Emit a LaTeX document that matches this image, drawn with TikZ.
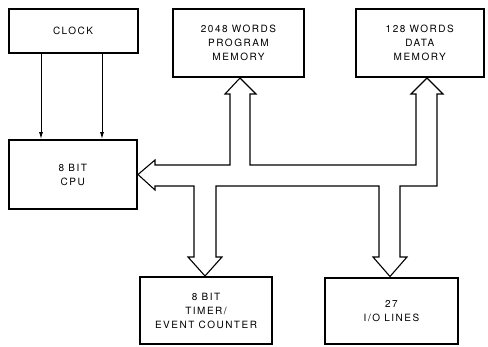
\documentclass[tikz,border=0pt]{standalone}
\usepackage{fontspec}
\newfontfamily\labfont{TeX Gyre Heros}[LetterSpace=15]
\usetikzlibrary{arrows.meta}
\tikzset{
  box/.style={draw=black, line width=2pt, align=center, inner sep=0pt,
    font=\labfont\fontsize{10}{14}\selectfont},
  bus/.style={draw=black, line width=1.1pt, line join=miter},
  clk/.style={draw=black, line width=0.9pt, -{Latex[length=7pt,width=4pt]}}
}
\begin{document}
\begin{tikzpicture}[x=1pt,y=-1pt]
\useasboundingbox (0,0) rectangle (488,346);
\node[box, minimum width=129pt, minimum height=44pt] (clock) at (73,30.5) {CLOCK};
\node[box, minimum width=128.5pt, minimum height=69pt] (cpu) at (72.75,174.5) {8 BIT\\CPU};
\node[box, minimum width=131pt, minimum height=68pt] (prog) at (238.5,43) {2048 WORDS\\PROGRAM\\MEMORY};
\node[box, minimum width=128.5pt, minimum height=68pt] (data) at (419.75,43) {128 WORDS\\DATA\\MEMORY};
\node[box, minimum width=132pt, minimum height=67pt] (timer) at (206,310.5) {8 BIT\\TIMER/\\EVENT COUNTER};
\node[box, minimum width=133pt, minimum height=66.5pt] (io) at (391.5,310.75) {27\\I/O LINES};
% clock lines
\draw[clk] (41,0 |- clock.south) -- (41,0 |- cpu.north);
\draw[clk] (102,0 |- clock.south) -- (102,0 |- cpu.north);
% bus tips
\coordinate (tcpu) at (cpu.east);
\coordinate (tprog) at (240,0 |- prog.south);
\coordinate (tdata) at (427,0 |- data.south);
\coordinate (ttimer) at (205,0 |- timer.north);
\coordinate (tio) at (390,0 |- io.north);
\draw[bus] (tcpu) -- (155,160) -- (155,165) -- (230,165) -- (230,94) -- (225,94)
  -- (tprog) -- (256,94) -- (250,94) -- (250,165) -- (416,165) -- (416,94) -- (411,94)
  -- (tdata) -- (443,94) -- (437,94) -- (437,186) -- (400,186) -- (400,257) -- (407,257)
  -- (tio) -- (373,257) -- (379,257) -- (379,186) -- (216,186) -- (216,257) -- (222,257)
  -- (ttimer) -- (188,257) -- (194,257) -- (194,186) -- (155,186) -- (155,190) -- cycle;
\end{tikzpicture}
\end{document}
